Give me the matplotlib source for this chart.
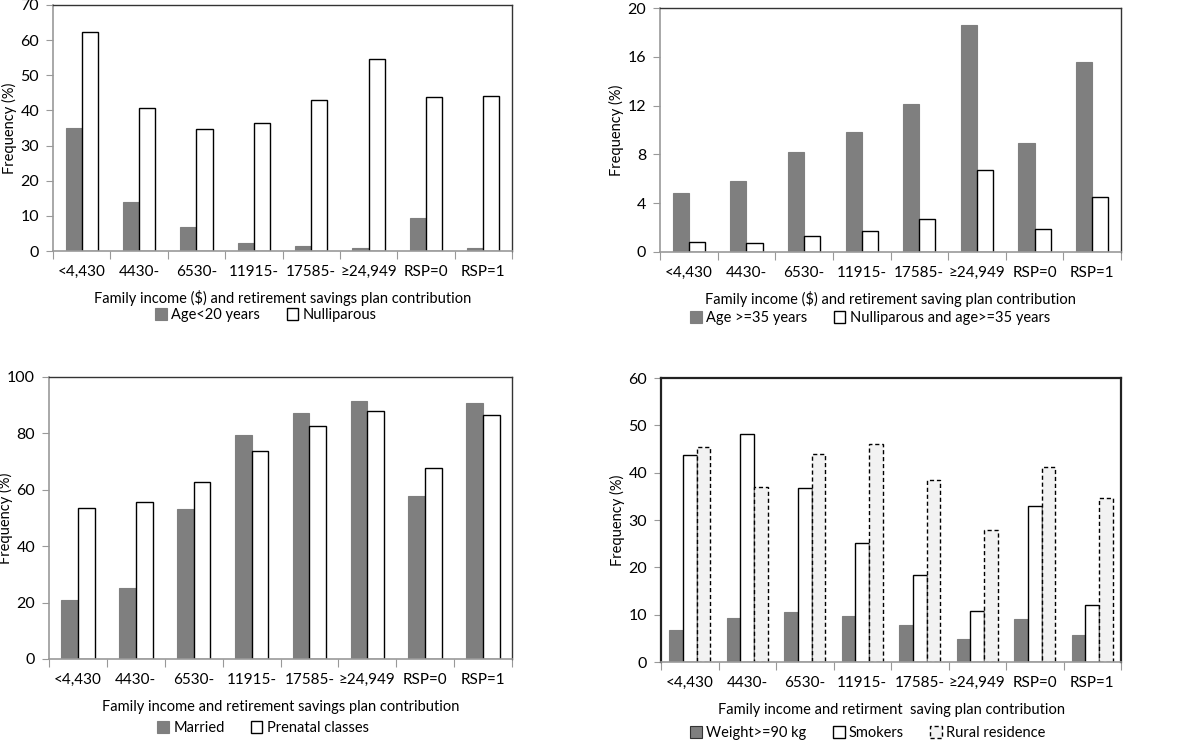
import matplotlib
matplotlib.use("Agg")
import matplotlib.pyplot as plt
from matplotlib.patches import Patch
import numpy as np

plt.rcParams['font.family'] = ['Lato', 'DejaVu Sans']

categories = ["<4,430", "4430-", "6530-", "11915-", "17585-", "\u226524,949", "RSP=0", "RSP=1"]

age_lt20 = [35.0, 14.0, 6.7, 2.3, 1.3, 0.9, 9.5, 0.9]
nulliparous = [62.2, 40.6, 34.7, 36.5, 43.1, 54.6, 43.9, 44.1]

age_ge35 = [4.8, 5.8, 8.2, 9.8, 12.1, 18.6, 8.9, 15.6]
nullip_ge35 = [0.8, 0.7, 1.3, 1.7, 2.7, 6.7, 1.9, 4.5]

married = [20.8, 25.2, 53.2, 79.3, 87.4, 91.4, 57.9, 90.7]
prenatal = [53.6, 55.7, 62.8, 73.8, 82.8, 87.9, 67.9, 86.4]

weight90 = [6.8, 9.3, 10.5, 9.7, 7.8, 4.8, 9.0, 5.8]
smokers = [43.7, 48.2, 36.8, 25.1, 18.4, 10.7, 32.9, 12.0]
rural = [45.5, 37.0, 44.0, 46.0, 38.5, 27.8, 41.1, 34.7]

W, H = 1200, 742
fig = plt.figure(figsize=(12, 7.42), dpi=100)

GRAY = '#7f7f7f'
FS = 10.5

styles = {
    'gray': dict(facecolor=GRAY, edgecolor=GRAY, linewidth=0.8),
    'white': dict(facecolor='white', edgecolor='black', linewidth=1.0),
    'dash': dict(facecolor='#f2f2f2', edgecolor='black', linewidth=1.0, linestyle=(0, (3, 2))),
}

def panel(box, series, names, kinds, ylim, yticks, xlabel, bw, ylab_right, leg_center,
          xlab_below=48, leg_below=66, thick=False):
    l, r, t, b = box
    ax = fig.add_axes([l / W, 1 - b / H, (r - l) / W, (b - t) / H])
    aw, ah = r - l, b - t
    n = len(categories)
    x = np.arange(n)
    k = len(series)
    for i, (vals, kind) in enumerate(zip(series, kinds)):
        off = (i - (k - 1) / 2) * bw
        ax.bar(x + off, vals, width=bw, **styles[kind])
    ax.set_xlim(-0.5, n - 0.5)
    ax.set_ylim(*ylim)
    ax.set_yticks(yticks)
    ax.set_yticklabels([str(v) for v in yticks], fontsize=FS + 1)
    ax.set_xticks(np.arange(-0.5, n, 1.0))
    ax.set_xticklabels([])
    ax.set_xticks(x, minor=True)
    ax.set_xticklabels(categories, minor=True, fontsize=FS + 0.5)
    ax.tick_params(axis='x', which='minor', length=0, pad=10)
    ax.tick_params(axis='x', which='major', length=6, direction='out', color='#999999')
    ax.tick_params(axis='y', length=5, direction='out', color='#999999', pad=5)
    for s in ['left', 'bottom']:
        ax.spines[s].set_color('#999999')
        ax.spines[s].set_linewidth(1.2)
    for s in ['top', 'right']:
        ax.spines[s].set_color('#222222' if thick else '#333333')
        ax.spines[s].set_linewidth(1.6 if thick else 1.0)
    if thick:
        ax.spines['left'].set_color('#222222')
        ax.spines['left'].set_linewidth(1.6)
    ax.set_ylabel("Frequency (%)", fontsize=FS)
    ax.yaxis.set_label_coords((ylab_right - l) / aw, 0.5)
    ax.set_xlabel(xlabel, fontsize=FS, va='center')
    ax.xaxis.set_label_coords(0.5, -xlab_below / ah)
    handles = [Patch(label=nm, **styles[kd]) for nm, kd in zip(names, kinds)]
    ax.legend(handles=handles, loc='center', bbox_to_anchor=((leg_center - l) / aw, -leg_below / ah),
              ncol=len(handles), frameon=False, fontsize=FS, handlelength=0.8,
              handleheight=0.8, handletextpad=0.3, columnspacing=1.8, borderaxespad=0,
              borderpad=0)
    return ax

a1 = panel((53, 512, 5, 251), [age_lt20, nulliparous], ["Age<20 years", "Nulliparous"],
           ['gray', 'white'], (0, 70), list(range(0, 71, 10)),
           "Family income ($) and retirement savings plan contribution", 0.28,
           ylab_right=17, leg_center=266, xlab_below=47, leg_below=64)

a2 = panel((660, 1121, 8, 252), [age_ge35, nullip_ge35], ["Age >=35 years", "Nulliparous and age>=35 years"],
           ['gray', 'white'], (0, 20), [0, 4, 8, 12, 16, 20],
           "Family income ($) and retirement saving plan contribution", 0.28,
           ylab_right=624, leg_center=870, xlab_below=47, leg_below=66)

a3 = panel((49, 512, 377, 659), [married, prenatal], ["Married", "Prenatal classes"],
           ['gray', 'white'], (0, 100), list(range(0, 101, 20)),
           "Family income and retirement savings plan contribution", 0.29,
           ylab_right=13, leg_center=263, xlab_below=48, leg_below=69)

a4 = panel((661, 1121, 378, 662), [weight90, smokers, rural], ["Weight>=90 kg", "Smokers", "Rural residence"],
           ['gray', 'white', 'dash'], (0, 60), list(range(0, 61, 10)),
           "Family income and retirment  saving plan contribution", 0.235,
           ylab_right=625, leg_center=868, xlab_below=48, leg_below=71, thick=True)
a4.get_legend().legend_handles[0].set_edgecolor('#333333')

fig.savefig("out.png", dpi=100)
